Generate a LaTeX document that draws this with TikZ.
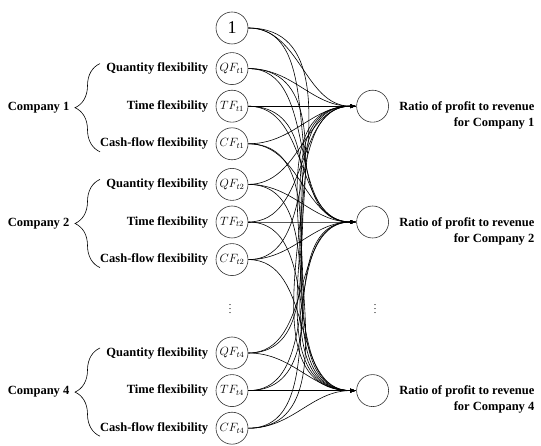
\documentclass[tikz,border=0pt]{standalone}
\usepackage{fontspec}
\setmainfont{Liberation Serif}
\usetikzlibrary{positioning,arrows.meta,decorations.pathreplacing}
\tikzset{
  var/.style={circle,draw=black!80,line width=0.6pt,minimum size=32pt,inner sep=0pt,font=\fontsize{12}{14}\selectfont},
  lab/.style={font=\bfseries\fontsize{12.5}{16}\selectfont},
  link/.style={-{Latex[length=6pt,width=4pt]},line width=0.6pt,out=0,in=180},
  cbrace/.style={decorate,decoration={brace,amplitude=25pt},line width=0.6pt},
}
\begin{document}
\begin{tikzpicture}[x=1pt,y=-1pt,node distance=5pt and 4pt]
  \useasboundingbox (0,0) rectangle (541,446);
  \node[var,font=\fontsize{18}{18}\selectfont] (one) at (232,28) {1};
  \node[var] (QF1) [below=8pt of one] {$QF_{t1}$};
  \node[var] (TF1) [below=of QF1] {$TF_{t1}$};
  \node[var] (CF1) [below=of TF1] {$CF_{t1}$};
  \node[var] (QF2) [below=8pt of CF1] {$QF_{t2}$};
  \node[var] (TF2) [below=of QF2] {$TF_{t2}$};
  \node[var] (CF2) [below=of TF2] {$CF_{t2}$};
  \node (dots1) at (230,306) {$\vdots$};
  \node[var] (QF4) at (232,353) {$QF_{t4}$};
  \node[var] (TF4) [below=of QF4] {$TF_{t4}$};
  \node[var] (CF4) [below=of TF4] {$CF_{t4}$};

  \node[var] (O1) [right=108pt of TF1] {};
  \node[var] (O2) [right=108pt of TF2] {};
  \node (dots2) at (375,306) {$\vdots$};
  \node[var] (O4) [right=108pt of TF4] {};

  \foreach \g in {1,2,4} {
    \node[lab] (lQ\g) [left=of QF\g] {Quantity flexibility};
    \node[lab] (lT\g) [left=of TF\g] {Time flexibility};
    \node[lab] (lC\g) [left=of CF\g] {Cash-flow flexibility};
    \draw[cbrace] ([xshift=-132pt,yshift=-8pt]CF\g.center) -- ([xshift=-132pt,yshift=5pt]QF\g.center)
      node[midway,lab,left=27pt] (C\g) {Company \g};
    \node[lab,align=right,anchor=north west] (R\g) at ([xshift=7pt,yshift=8pt]O\g.east)
      {Ratio of profit to revenue\\for Company \g};
  }

  \foreach \s in {one,QF1,TF1,CF1,QF2,TF2,CF2,QF4,TF4,CF4}
    \foreach \t in {O1,O2,O4}
      \draw[link] (\s) to (\t);
\end{tikzpicture}
\end{document}
